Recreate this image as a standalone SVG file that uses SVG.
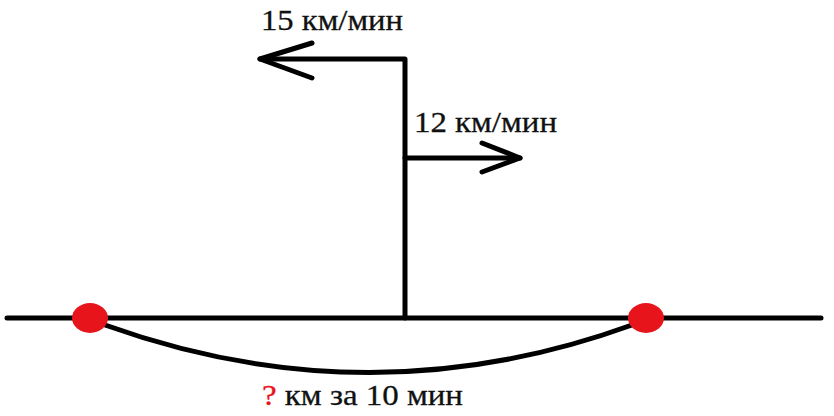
<svg xmlns="http://www.w3.org/2000/svg" width="834" height="416" viewBox="0 0 834 416">
<style>
.ln{stroke:#000;stroke-width:5;fill:none;stroke-linecap:round;stroke-linejoin:round}
.t{font-family:"Liberation Serif","DejaVu Serif","Times New Roman",serif;font-size:29px;fill:#111;stroke:#111;stroke-width:0.3}
.dot{fill:#e8141c}
</style>
<rect width="834" height="416" fill="#fff"/>
<g id="connectors">
<line class="ln" x1="7" y1="318" x2="821" y2="318"/>
<polyline class="ln" points="405,318 405,59 260,59"/>
<polyline class="ln" points="312,43 260,59 312,78"/>
<line class="ln" x1="405" y1="158" x2="520" y2="158"/>
<polyline class="ln" points="482,143 520,158 482,172"/>
<path class="ln" d="M105,325 Q370,420 632,325"/>
</g>
<g id="dot-left"><ellipse class="dot" cx="90" cy="318" rx="18" ry="15"/></g>
<g id="dot-right"><ellipse class="dot" cx="646" cy="318" rx="18" ry="15"/></g>
<g id="label-15"><text class="t" x="261" y="30" textLength="142" lengthAdjust="spacingAndGlyphs">15 км/мин</text></g>
<g id="label-12"><text class="t" x="414" y="132" textLength="143" lengthAdjust="spacingAndGlyphs">12 км/мин</text></g>
<g id="label-bottom"><text class="t" x="262" y="405" textLength="201" lengthAdjust="spacingAndGlyphs"><tspan fill="#e8141c" stroke="#e8141c">?</tspan> км за 10 мин</text></g>
</svg>
